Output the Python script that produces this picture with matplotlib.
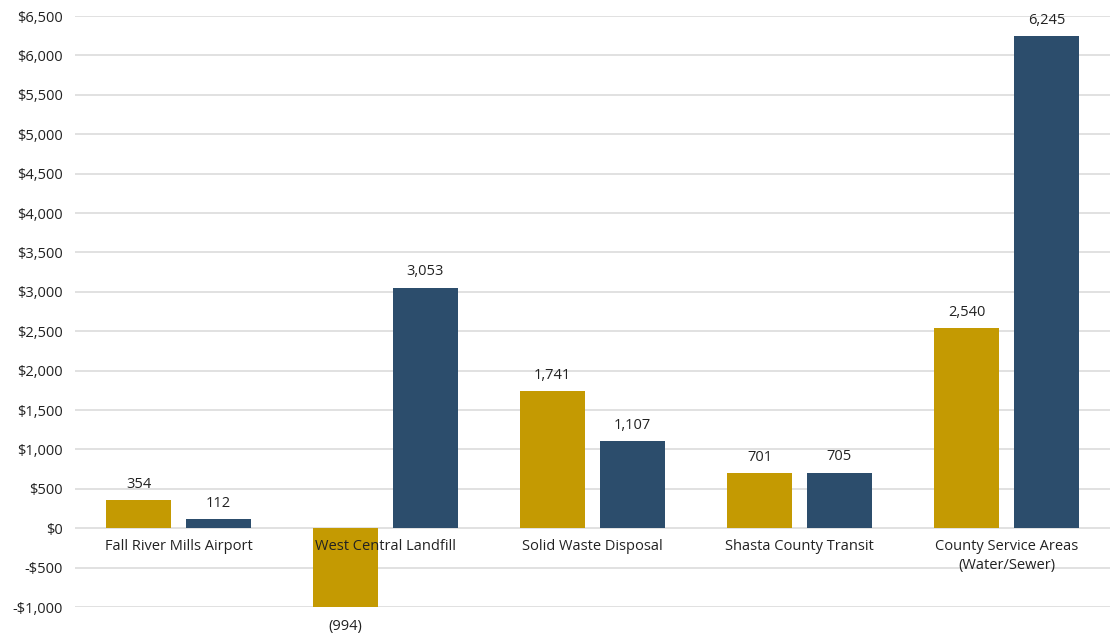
import matplotlib
matplotlib.use("Agg")
import matplotlib.pyplot as plt
import numpy as np

categories = ["Fall River Mills Airport", "West Central Landfill", "Solid Waste Disposal",
              "Shasta County Transit", "County Service Areas\n(Water/Sewer)"]
series_a = [354, -994, 1741, 701, 2540]
series_b = [112, 3053, 1107, 705, 6245]
yticks = list(range(-1000, 6501, 500))

gold = "#C49A02"
navy = "#2C4D6C"

plt.rcParams['font.family'] = ['Open Sans', 'DejaVu Sans']

fig = plt.figure(figsize=(11.10, 6.41), dpi=100)
ax = fig.add_axes([0.0676, 0.053, 0.9324, 0.922])

x = np.arange(len(categories))
w = 0.31
off = 0.193
ba = ax.bar(x - off, series_a, w, color=gold, zorder=2)
bb = ax.bar(x + off, series_b, w, color=navy, zorder=2)

ax.set_xlim(-0.5, len(categories) - 0.5)
ax.set_ylim(-1000, 6500)
ax.set_yticks(yticks)
ax.set_yticklabels([("-$" if v < 0 else "$") + f"{abs(v):,}" for v in yticks], fontsize=10.5, color="#222222")
ax.tick_params(axis="y", length=0, pad=9)
ax.set_xticks([])
for s in ax.spines.values():
    s.set_visible(False)
ax.yaxis.grid(True, color="#DCDCDC", linewidth=1.2, zorder=0)
ax.set_axisbelow(True)

def fmt(v):
    return f"({abs(v):,})" if v < 0 else f"{v:,}"

for bars, vals in ((ba, series_a), (bb, series_b)):
    for r, v in zip(bars, vals):
        cx = r.get_x() + r.get_width() / 2
        if v >= 0:
            ax.annotate(fmt(v), (cx, v), xytext=(0, 6), textcoords="offset points",
                        ha="center", va="bottom", fontsize=10.5, color="#222222", zorder=3)
        else:
            ax.annotate(fmt(v), (cx, v), xytext=(0, -9), textcoords="offset points",
                        ha="center", va="top", fontsize=10.5, color="#222222", zorder=3)

for xi, c in zip(x, categories):
    ax.annotate(c, (xi, 0), xytext=(0, -8), textcoords="offset points",
                ha="center", va="top", fontsize=10.5, color="#222222", zorder=4,
                linespacing=1.3)

fig.savefig("out.png", dpi=100)
